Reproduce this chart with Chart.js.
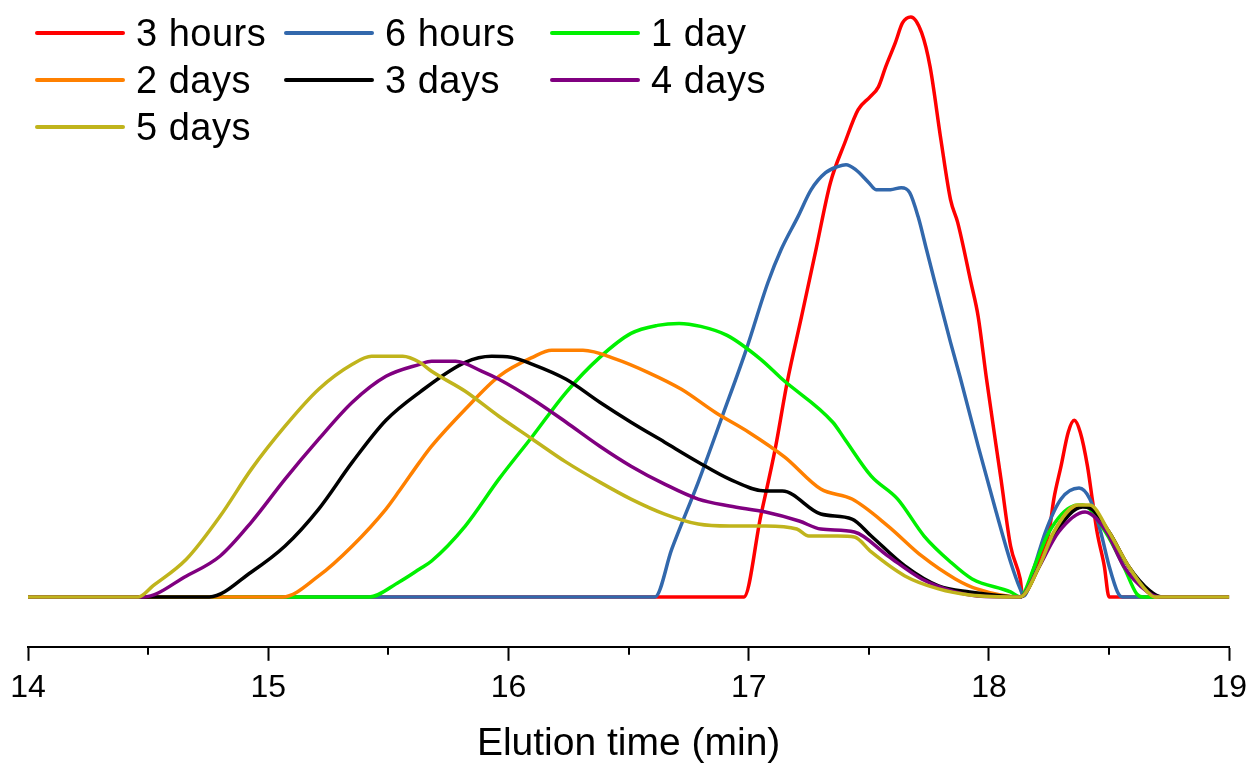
<!DOCTYPE html>
<html>
<head>
<meta charset="utf-8">
<script src="https://cdn.jsdelivr.net/npm/chart.js@4.4.1/dist/chart.umd.min.js"></script>
<style>
  html, body { margin: 0; padding: 0; background: #fff; }
  #wrap { position: relative; width: 1255px; height: 768px; }
  #legend { position: absolute; left: 0; top: 0; font-family: "Liberation Sans", Arial, sans-serif; font-size: 38px; letter-spacing: 0.5px; color: #000; }
  .item { position: absolute; height: 40px; }
  .swatch { position: absolute; left: 0; top: 18px; width: 90px; height: 4px; border-radius: 2px; }
  .label { position: absolute; left: 101px; top: 0; line-height: 40px; white-space: nowrap; }
</style>
</head>
<body>
<div id="wrap">
  <canvas id="chart" width="1255" height="768"></canvas>
  <div id="legend"></div>
</div>
<script>
// Series names and colours, in legend order
const seriesLabels = ["3 hours", "6 hours", "1 day", "2 days", "3 days", "4 days", "5 days"];
const seriesColors = ["#FF0000", "#3268AC", "#00F000", "#FF8000", "#000000", "#800080", "#C0B41C"];

// Elution time (min) and detector signal (a.u.) for each sample
const t3h = [14, 16.98, 17.05, 17.11, 17.16, 17.22, 17.28, 17.34, 17.40, 17.455, 17.505, 17.54, 17.57, 17.61, 17.64, 17.675, 17.72, 17.755, 17.80, 17.84, 17.87, 17.925, 17.955, 17.99, 18.05, 18.09, 18.13, 18.14, 18.20, 18.25, 18.27, 18.30, 18.33, 18.355, 18.38, 18.41, 18.43, 18.45, 18.48, 18.50, 19];
const y3h = [0, 0, 81, 148, 215, 281, 348, 415, 455, 488, 501, 511, 531, 555, 575, 581, 565, 531, 458, 398, 375, 315, 281, 218, 118, 51, 18, 2, 31, 65, 98, 131, 165, 177, 165, 131, 98, 65, 31, 0, 0];

const t6h = [14, 16.61, 16.68, 16.79, 16.89, 16.99, 17.08, 17.135, 17.205, 17.26, 17.32, 17.37, 17.405, 17.445, 17.50, 17.53, 17.59, 17.635, 17.67, 17.705, 17.74, 17.775, 17.84, 17.88, 17.955, 18.03, 18.09, 18.13, 18.145, 18.19, 18.235, 18.30, 18.375, 18.42, 18.465, 18.50, 18.535, 18.555, 19];
const y6h = [0, 0, 48, 115, 181, 248, 315, 348, 381, 408, 425, 431, 433, 428, 415, 408, 408, 410, 405, 381, 348, 315, 255, 220, 151, 85, 35, 8, 1, 31, 65, 98, 109, 98, 65, 31, 5, 0, 0];

const t1d = [14, 15.42, 15.545, 15.63, 15.68, 15.82, 15.96, 16.10, 16.24, 16.38, 16.51, 16.62, 16.71, 16.80, 16.91, 17.05, 17.14, 17.35, 17.40, 17.51, 17.62, 17.73, 17.84, 17.93, 18.09, 18.13, 18.19, 18.25, 18.35, 18.39, 18.485, 18.56, 18.615, 18.64, 19];
const y1d = [0, 0, 15, 28, 36, 71, 118, 161, 205, 240, 264, 272, 274, 271, 262, 238, 218, 175, 158, 121, 98, 61, 35, 18, 5, 0, 31, 65, 91, 92, 65, 31, 3, 0, 0];

const t2d = [14, 15.06, 15.21, 15.35, 15.49, 15.545, 15.63, 15.68, 15.82, 15.96, 16.10, 16.18, 16.31, 16.45, 16.58, 16.72, 16.86, 17.00, 17.15, 17.30, 17.43, 17.58, 17.72, 17.86, 17.95, 18.13, 18.21, 18.27, 18.37, 18.41, 18.50, 18.58, 18.66, 18.70, 19];
const y2d = [0, 0, 21, 51, 88, 106, 135, 151, 188, 221, 240, 247, 247, 238, 225, 208, 185, 165, 140, 108, 98, 71, 41, 18, 8, 0, 31, 65, 91, 91, 65, 31, 5, 0, 0];

const t3d = [14, 14.755, 14.93, 15.07, 15.21, 15.35, 15.49, 15.63, 15.82, 15.93, 16.01, 16.10, 16.24, 16.38, 16.51, 16.65, 16.79, 16.92, 17.07, 17.14, 17.30, 17.43, 17.51, 17.65, 17.79, 17.92, 18.13, 18.21, 18.28, 18.39, 18.42, 18.50, 18.58, 18.67, 18.72, 19];
const y3d = [0, 0, 25, 51, 88, 135, 177, 205, 235, 241, 240, 233, 218, 195, 175, 155, 135, 118, 106, 106, 83, 78, 61, 31, 11, 5, 0, 31, 65, 90, 89, 65, 31, 6, 0, 0];

const t4d = [14, 14.48, 14.66, 14.80, 14.93, 15.07, 15.21, 15.35, 15.49, 15.63, 15.68, 15.78, 15.89, 15.96, 16.10, 16.24, 16.38, 16.51, 16.65, 16.79, 16.92, 17.07, 17.21, 17.30, 17.44, 17.58, 17.72, 17.86, 17.95, 18.13, 18.21, 18.29, 18.40, 18.49, 18.56, 18.66, 18.71, 19];
const y4d = [0, 0, 21, 41, 75, 118, 158, 195, 221, 233, 236, 236, 226, 218, 198, 175, 151, 131, 113, 98, 91, 85, 76, 68, 65, 41, 18, 5, 1, 0, 31, 65, 85, 65, 31, 5, 0, 0];

const t5d = [14, 14.46, 14.52, 14.66, 14.80, 14.93, 15.07, 15.21, 15.35, 15.43, 15.56, 15.63, 15.68, 15.82, 15.96, 16.10, 16.24, 16.38, 16.51, 16.65, 16.79, 16.92, 17.07, 17.20, 17.25, 17.37, 17.44, 17.51, 17.65, 17.79, 17.92, 18.13, 18.21, 18.27, 18.37, 18.42, 18.50, 18.58, 18.66, 18.69, 19];
const y5d = [0, 0, 11, 38, 81, 128, 171, 208, 233, 241, 241, 235, 226, 206, 181, 158, 135, 115, 98, 83, 73, 71, 71, 68, 61, 61, 60, 45, 21, 8, 2, 0, 31, 65, 92, 92, 65, 31, 5, 0, 0];

const seriesTimes = [t3h, t6h, t1d, t2d, t3d, t4d, t5d];
const seriesValues = [y3h, y6h, y1d, y2d, y3d, y4d, y5d];

// Axis ticks
const xMin = 14, xMax = 19;
const minorTickValues = [14.5, 15.5, 16.5, 17.5, 18.5];

const FONT = '"Liberation Sans", Arial, sans-serif';

// Short unlabeled ticks between the labelled minutes
const minorTicks = {
  id: 'minorTicks',
  afterDraw(chart) {
    const x = chart.scales.x;
    const ctx = chart.ctx;
    ctx.save();
    ctx.strokeStyle = '#000';
    ctx.lineWidth = 2;
    minorTickValues.forEach(v => {
      const px = Math.round(x.getPixelForValue(v));
      ctx.beginPath();
      ctx.moveTo(px, x.top);
      ctx.lineTo(px, x.top + 8);
      ctx.stroke();
    });
    ctx.restore();
  }
};

function buildDatasets() {
  return seriesLabels.map((label, i) => ({
    label: label,
    data: seriesTimes[i].map((t, k) => ({ x: t, y: seriesValues[i][k] })),
    borderColor: seriesColors[i],
    borderWidth: 3.5,
    pointRadius: 0,
    fill: false,
    cubicInterpolationMode: 'monotone',
    // later samples are drawn on top, as in the original plot
    order: seriesLabels.length - i
  }));
}

function buildLegend() {
  const legend = document.getElementById('legend');
  const colX = [35, 284, 550];
  const rowY = [13, 60, 107];
  seriesLabels.forEach((label, i) => {
    const item = document.createElement('div');
    item.className = 'item';
    item.style.left = colX[i % 3] + 'px';
    item.style.top = rowY[Math.floor(i / 3)] + 'px';
    const sw = document.createElement('span');
    sw.className = 'swatch';
    sw.style.background = seriesColors[i];
    const tx = document.createElement('span');
    tx.className = 'label';
    tx.textContent = label;
    item.appendChild(sw);
    item.appendChild(tx);
    legend.appendChild(item);
  });
}

new Chart(document.getElementById('chart'), {
  type: 'line',
  data: { datasets: buildDatasets() },
  options: {
    responsive: false,
    animation: false,
    layout: { padding: { left: 28, right: 21, top: 10, bottom: 0 } },
    plugins: {
      legend: { display: false },
      tooltip: { enabled: false }
    },
    scales: {
      x: {
        type: 'linear',
        min: xMin,
        max: xMax,
        ticks: {
          stepSize: 1,
          padding: 8,
          color: '#000',
          font: { family: FONT, size: 32 },
          maxRotation: 0
        },
        grid: {
          drawOnChartArea: false,
          drawTicks: true,
          tickLength: 14,
          tickWidth: 2,
          tickColor: '#000'
        },
        border: { display: true, color: '#000', width: 2 },
        title: {
          display: true,
          text: 'Elution time (min)',
          color: '#000',
          font: { family: FONT, size: 39 },
          padding: { top: 6, bottom: 0 }
        }
      },
      y: {
        display: false,
        min: -50,
        max: 588
      }
    }
  },
  plugins: [minorTicks]
});

buildLegend();
</script>
</body>
</html>
